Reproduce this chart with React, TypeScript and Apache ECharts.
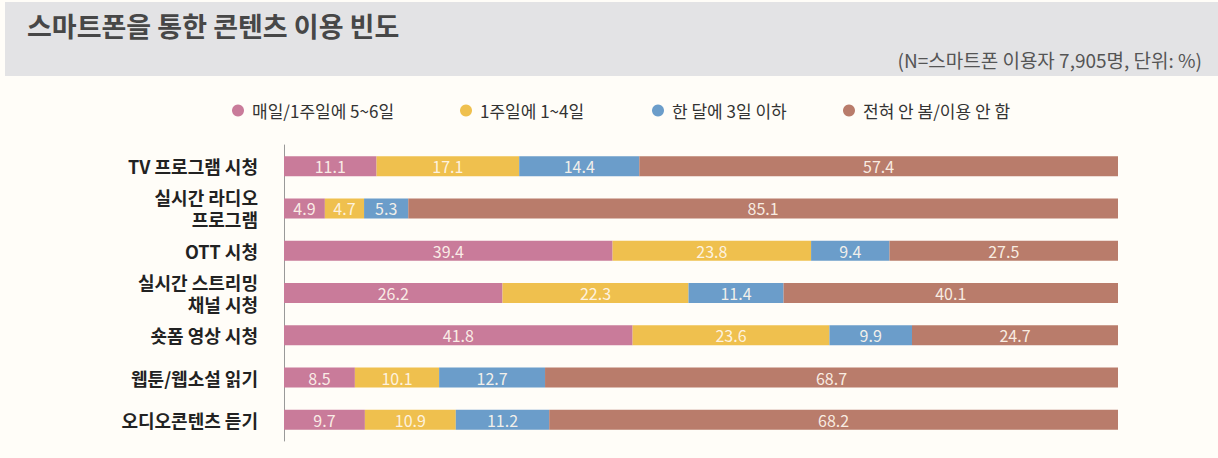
import React, { useEffect, useRef } from "react";
import * as echarts from "echarts";

const categories = [
  "TV 프로그램 시청",
  "실시간 라디오\n프로그램",
  "OTT 시청",
  "실시간 스트리밍\n채널 시청",
  "숏폼 영상 시청",
  "웹툰/웹소설 읽기",
  "오디오콘텐츠 듣기",
];
const seriesNames = ["매일/1주일에 5~6일", "1주일에 1~4일", "한 달에 3일 이하", "전혀 안 봄/이용 안 함"];
const daily = [11.1, 4.9, 39.4, 26.2, 41.8, 8.5, 9.7];
const weekly = [17.1, 4.7, 23.8, 22.3, 23.6, 10.1, 10.9];
const monthly = [14.4, 5.3, 9.4, 11.4, 9.9, 12.7, 11.2];
const never = [57.4, 85.1, 27.5, 40.1, 24.7, 68.7, 68.2];
const colors = ["#c97b9a", "#efc04e", "#6b9dca", "#b97c6b"];

const FONT = '"Noto Sans CJK KR", "Noto Sans", sans-serif';

export default function App() {
  const ref = useRef<HTMLDivElement>(null);
  useEffect(() => {
    if (!ref.current) return;
    const chart = echarts.init(ref.current, null, { renderer: "svg" });
    const values = [daily, weekly, monthly, never];
    const legendLefts = [227, 455, 647, 838];
    chart.setOption({
      animation: false,
      backgroundColor: "#fffdf8",
      textStyle: { fontFamily: FONT },
      graphic: [
        {
          type: "rect",
          z: -10,
          shape: { x: 5, y: 2, width: 1213, height: 74 },
          style: { fill: "#e3e3e5" },
          silent: true,
        },
      ],
      title: [
        {
          text: "스마트폰을 통한 콘텐츠 이용 빈도",
          left: 22,
          top: 7,
          textStyle: { fontFamily: FONT, fontSize: 27, fontWeight: "bold", color: "#474747" },
        },
        {
          text: "(N=스마트폰 이용자 7,905명, 단위: %)",
          right: 11,
          top: 45,
          textStyle: { fontFamily: FONT, fontSize: 19, fontWeight: "normal", color: "#555555" },
        },
      ],
      legend: seriesNames.map((n, i) => ({
        data: [n],
        left: legendLefts[i],
        top: 97,
        icon: "circle",
        itemWidth: 12,
        itemHeight: 12,
        textStyle: { fontFamily: FONT, fontSize: 17, color: "#333333", padding: [0, 0, 0, 3] },
      })),
      grid: { left: 284, right: 100, top: 145, bottom: 17, containLabel: false },
      xAxis: {
        type: "value",
        min: 0,
        max: 100,
        show: false,
      },
      yAxis: {
        type: "category",
        data: categories,
        inverse: true,
        axisLine: { show: true, lineStyle: { color: "#999999", width: 1 } },
        axisTick: { show: false },
        axisLabel: {
          fontFamily: FONT,
          fontSize: 18,
          fontWeight: "bold",
          color: "#222222",
          margin: 26,
          lineHeight: 22,
          align: "right",
        },
      },
      series: seriesNames.map((n, i) => ({
        name: n,
        type: "bar",
        stack: "total",
        barWidth: 20,
        data: values[i],
        itemStyle: { color: colors[i] },
        label: {
          show: true,
          position: "inside",
          fontFamily: FONT,
          fontSize: 16,
          color: "rgba(255,248,238,0.92)",
          formatter: (p: any) => p.value.toFixed(1),
        },
      })),
    });
    return () => chart.dispose();
  }, []);
  return (
    <div
      ref={ref}
      style={{ position: "absolute", left: 0, top: 0, width: 1218, height: 458, background: "#fffdf8" }}
    />
  );
}
